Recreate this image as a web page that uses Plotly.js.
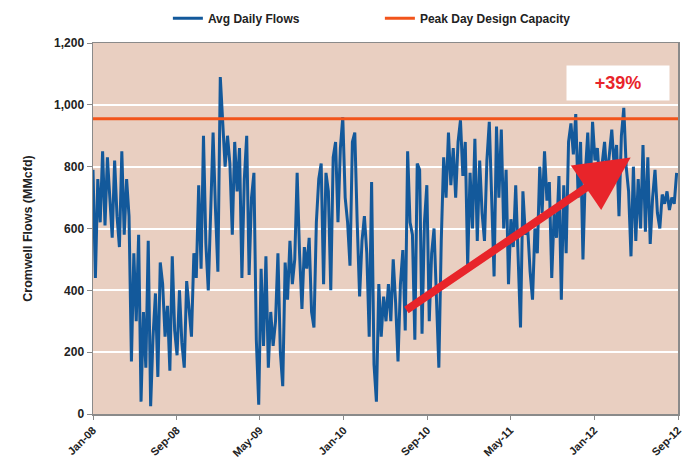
<!DOCTYPE html>
<html>
<head>
<meta charset="utf-8">
<script src="https://cdn.plot.ly/plotly-3.0.1.min.js"></script>
<style>html,body{margin:0;padding:0;background:#fff;}#chart{width:691px;height:461px;}</style>
</head>
<body>
<div id="chart"></div>
<script>
// Weekly readings of average daily flows (MMcfd), starting Jan 1, 2008
const startDate = '2008-01-01';
const endDate = '2012-09-01';
const avgDailyFlows = [
  790, 440, 760, 620, 850, 610, 830, 680, 570, 820,
  640, 540, 850, 580, 760, 640, 170, 520, 300, 580,
  40, 330, 150, 560, 25, 250, 390, 120, 490, 420,
  250, 350, 140, 510, 270, 190, 400, 230, 150, 430,
  330, 250, 520, 440, 740, 470, 900, 550, 400, 700,
  910, 660, 460, 1090, 920, 800, 900, 810, 580, 880,
  720, 860, 440, 760, 900, 450, 700, 780, 240, 30,
  470, 220, 510, 150, 330, 220, 300, 520, 200, 90,
  490, 370, 560, 420, 500, 780, 520, 340, 540, 470,
  570, 330, 280, 620, 760, 810, 420, 780, 720, 400,
  830, 880, 620, 860, 960, 700, 620, 480, 880, 910,
  620, 380, 560, 640, 520, 250, 750, 160, 40, 420,
  250, 380, 300, 420, 300, 500, 360, 170, 420, 530,
  270, 850, 620, 580, 240, 810, 790, 260, 620, 740,
  300, 520, 600, 380, 150, 560, 830, 700, 910, 740,
  860, 700, 880, 950, 770, 880, 480, 780, 600, 890,
  560, 820, 650, 560, 820, 945, 660, 445, 930, 700,
  920, 600, 790, 420, 630, 540, 740, 490, 280, 720,
  580, 600, 460, 370, 600, 520, 800, 650, 850, 690,
  750, 440, 650, 570, 770, 370, 740, 520, 880, 940,
  840, 970, 700, 880, 500, 780, 910, 720, 945, 820,
  860, 740, 820, 880, 760, 850, 920, 800, 870, 640,
  900, 990, 800, 720, 510, 800, 560, 760, 600, 870,
  590, 830, 550, 700, 790, 650, 600, 710, 680, 720,
  660, 700, 680, 780
];
const capacityDates = [startDate, endDate];
const capacityValues = [955, 955];
const yTicks = [0, 200, 400, 600, 800, 1000, 1200];

// annotation anchors
const labelText = '+39%';
const labelPos = {x: '2012-03-10', y: 1072};
const arrowTail = {x: '2010-06-28', y: 333};
const arrowTip = {x: '2012-04-16', y: 830};

const WEEK = 7 * 24 * 3600 * 1000;
const FAMILY = 'Arial, "Liberation Sans", sans-serif';
const boldFont = {family: FAMILY, size: 12, color: '#222', weight: 700};
const titleFont = {family: FAMILY, size: 12.5, color: '#222', weight: 700};
const tickFontX = {family: FAMILY, size: 11, color: '#222', weight: 700};

const traces = [
  {
    type: 'scatter', mode: 'lines', name: 'Avg Daily Flows',
    x0: startDate, dx: WEEK, y: avgDailyFlows,
    line: {color: '#13599B', width: 3}
  },
  {
    type: 'scatter', mode: 'lines', name: 'Peak Day Design Capacity',
    x: capacityDates, y: capacityValues,
    line: {color: '#F2541B', width: 3}
  }
];

const layout = {
  width: 691, height: 461,
  margin: {l: 93, r: 13, t: 43, b: 47, autoexpand: false},
  paper_bgcolor: '#ffffff',
  plot_bgcolor: '#E9CFC1',
  font: boldFont,
  showlegend: true,
  legend: {
    orientation: 'h', x: 0.128, xanchor: 'left', y: 1.067, yanchor: 'middle',
    font: boldFont, entrywidth: 167, itemwidth: 30, bgcolor: 'rgba(0,0,0,0)'
  },
  xaxis: {
    type: 'date', range: [startDate, endDate],
    tick0: startDate, dtick: 'M8', tickformat: '%b-%y', tickangle: -45,
    showgrid: false, zeroline: false,
    showline: true, linecolor: '#8a8a8a', linewidth: 1.5, mirror: true,
    ticks: 'outside', ticklen: 4, tickcolor: '#8a8a8a',
    tickfont: tickFontX, automargin: false
  },
  yaxis: {
    range: [0, 1200], tickvals: yTicks, tickformat: ',d',
    showgrid: true, gridcolor: '#FFFFFF', gridwidth: 2, zeroline: false,
    showline: true, linecolor: '#8a8a8a', linewidth: 1.5, mirror: true,
    ticks: 'outside', ticklen: 5, tickcolor: '#8a8a8a',
    tickfont: boldFont, automargin: false,
    title: {text: 'Cromwell Flows (MMcfd)', font: titleFont, standoff: 18}
  },
  annotations: [
    {
      x: arrowTip.x, y: arrowTip.y, xref: 'x', yref: 'y',
      ax: arrowTail.x, ay: arrowTail.y, axref: 'x', ayref: 'y',
      showarrow: true, arrowhead: 2, arrowsize: 1.35, arrowwidth: 8,
      arrowcolor: '#E8242A', text: ''
    },
    {
      x: labelPos.x, y: labelPos.y, xref: 'x', yref: 'y',
      text: labelText, showarrow: false,
      bgcolor: '#FFFFFF', width: 100, height: 32,
      font: {family: FAMILY, size: 18, color: '#E8242A', weight: 700}
    }
  ]
};

Plotly.newPlot('chart', traces, layout, {displayModeBar: false, staticPlot: true});
</script>
</body>
</html>
